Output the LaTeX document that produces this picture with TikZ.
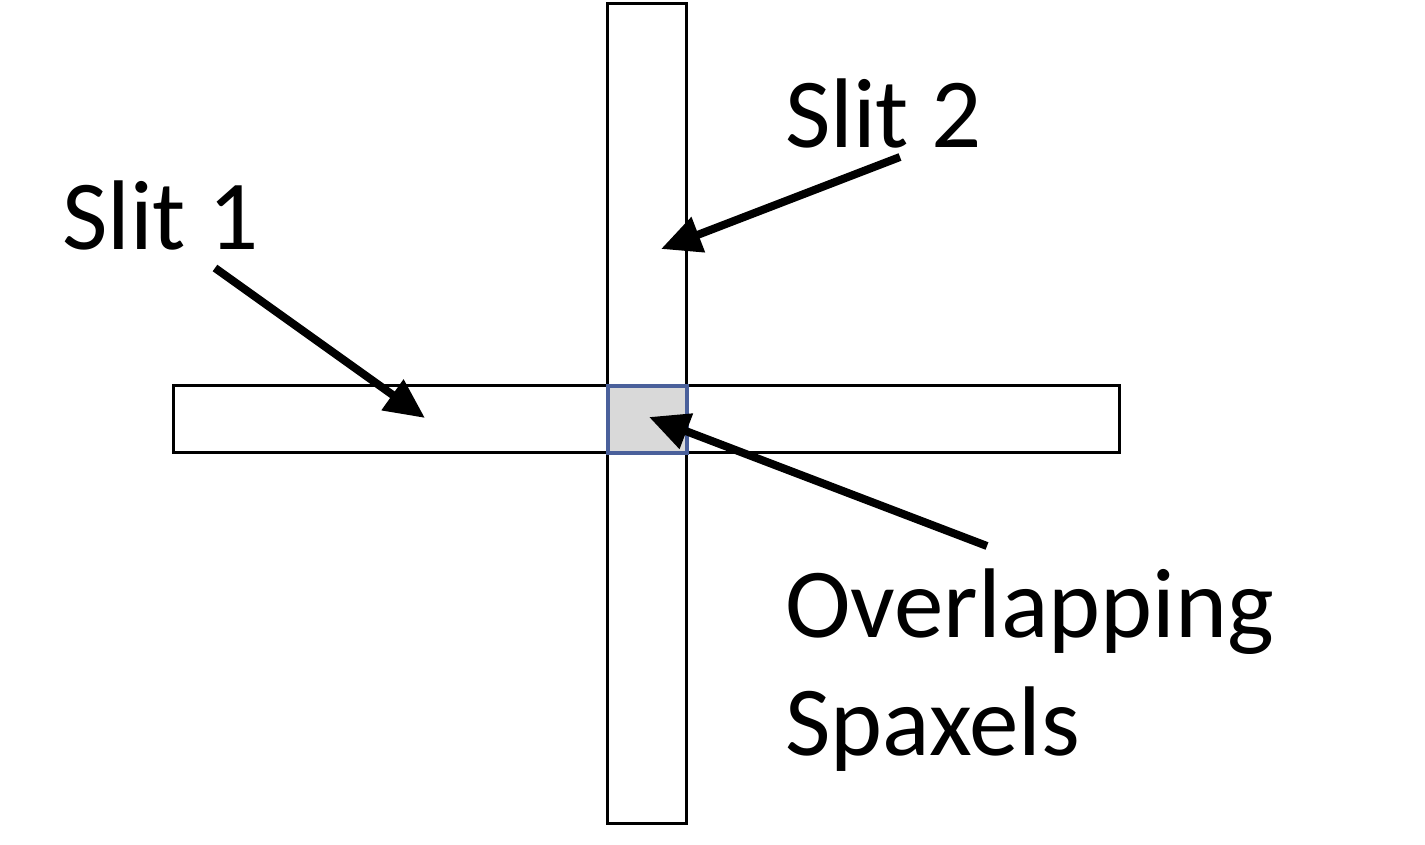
\documentclass[tikz,border=0pt]{standalone}
\usepackage{fontspec}
\setmainfont{Carlito}
\usetikzlibrary{arrows.meta}
\begin{document}
\begin{tikzpicture}[x=1pt,y=-1pt,
  slitbox/.style={draw=black,line width=3pt,fill=white},
  overlapbox/.style={draw={rgb,255:red,74;green,96;blue,155},line width=3.5pt,fill={rgb,255:red,217;green,217;blue,217}},
  pointer/.style={line width=8pt,-{Triangle[length=40pt,width=36pt]}},
  lbl/.style={inner sep=0pt,anchor=base west,font=\fontsize{99}{115}\selectfont}]
\useasboundingbox (0,0) rectangle (1425,845);
\node[slitbox,minimum width=79pt,minimum height=820pt,inner sep=0pt,anchor=north west] (slit2) at (606,2) {};
\node[slitbox,minimum width=946pt,minimum height=67pt,inner sep=0pt,anchor=north west] (slit1) at (172,384) {};
\node[overlapbox,minimum width=79pt,minimum height=67pt,inner sep=0pt,anchor=north west] (ovl) at (606,384) {};
\node[lbl] (t1) at (62,250) {Slit 1};
\node[lbl] (t2) at (785,148) {Slit 2};
\node[lbl] (t3) at (785,637) {Overlapping};
\node[lbl] (t4) at (785,755) {Spaxels};
\coordinate (a1s) at (215,268);
\coordinate (a1e) at (425,418);
\coordinate (a2s) at (900,157);
\coordinate (a2e) at (661,249);
\coordinate (a3s) at (987,546);
\coordinate (a3e) at (649,417);
\draw[pointer] (a1s) -- (a1e);
\draw[pointer] (a2s) -- (a2e);
\draw[pointer] (a3s) -- (a3e);
\end{tikzpicture}
\end{document}
